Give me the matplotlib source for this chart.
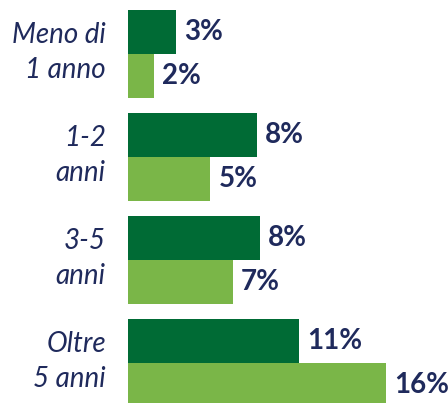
import matplotlib
matplotlib.use("Agg")
from matplotlib import pyplot as plt

categories = ["Meno di\n1 anno", "1-2\nanni", "3-5\nanni", "Oltre\n5 anni"]
dark_vals = [3.0, 8.0, 8.2, 10.6]
light_vals = [1.6, 5.1, 6.5, 16.0]
dark_labels = ["3%", "8%", "8%", "11%"]
light_labels = ["2%", "5%", "7%", "16%"]

dark = "#006B35"
light = "#7AB648"
navy = "#1F2A5C"

fig = plt.figure(figsize=(4.48, 4.03), dpi=100)
ax = fig.add_axes([128 / 448, 0, 320 / 448, 1])

h = 44 / 103
ys = list(range(len(categories)))
ax.barh([y - h / 2 for y in ys], dark_vals, height=h, color=dark)
ax.barh([y + h / 2 for y in ys], light_vals, height=h, color=light)

for y, v, t in zip(ys, dark_vals, dark_labels):
    ax.annotate(t, (v, y - h / 2), xytext=(6, 0), textcoords="offset points",
                va="center", ha="left", fontsize=20, fontweight="bold",
                color=navy, family="Lato")
for y, v, t in zip(ys, light_vals, light_labels):
    ax.annotate(t, (v, y + h / 2), xytext=(6, 0), textcoords="offset points",
                va="center", ha="left", fontsize=20, fontweight="bold",
                color=navy, family="Lato")

for y, c in zip(ys, categories):
    ax.annotate(c, (0, y), xytext=(-16, 1), textcoords="offset points",
                va="center", ha="right", fontsize=20, style="italic",
                color=navy, family="Lato", linespacing=1.4)

ax.set_xlim(0, 320 / 16.1)
ax.set_ylim(3 + 40 / 103, -54 / 103)
ax.axis("off")

fig.savefig("out.png", dpi=100)
